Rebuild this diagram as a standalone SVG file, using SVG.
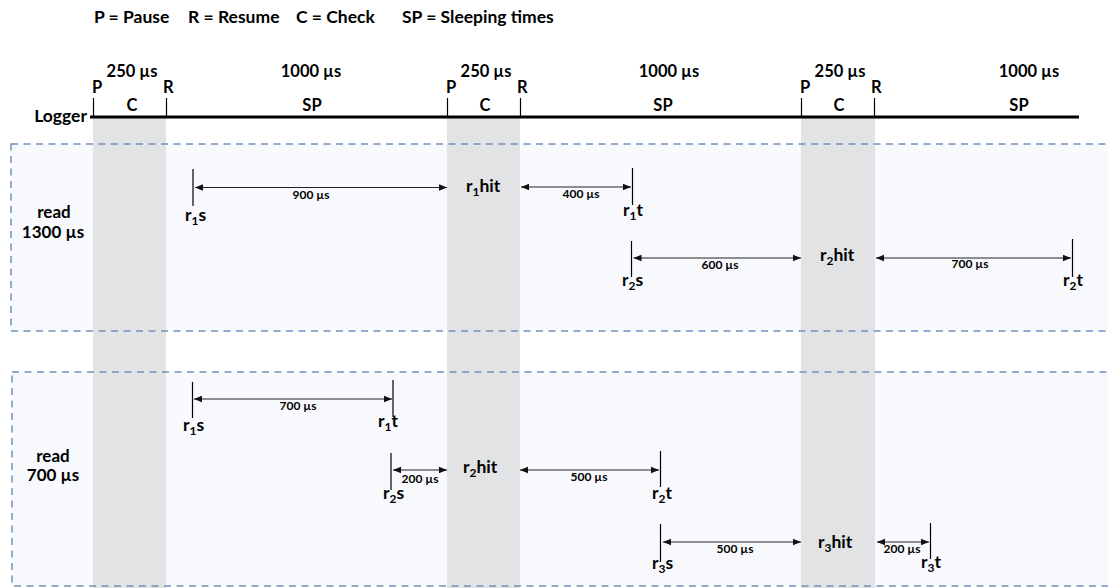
<svg xmlns="http://www.w3.org/2000/svg" width="1108" height="588" viewBox="0 0 1108 588">
<style>
text{font-family:Lato,"Open Sans","Liberation Sans",sans-serif;font-weight:bold;fill:#000}
.t{font-size:17.5px}
.h{font-size:16.5px}
.lb{font-size:17.5px}
.rd{font-size:17px}
.sm{font-size:12px}
.sub{font-size:12px}
.box{fill:#f8f9fc;stroke:none}
.boxline{fill:none;stroke:#6f92bb;stroke-width:1.5;stroke-dasharray:7 5.5}
.band{fill:#e2e3e5}
.tick{stroke:#000;stroke-width:1.2}
.arr{stroke:#222;stroke-width:1;fill:none;marker-start:url(#ah);marker-end:url(#ah)}
</style>
<defs>
<marker id="ah" viewBox="0 0 8 8" refX="8" refY="4" markerWidth="8" markerHeight="8" markerUnits="userSpaceOnUse" orient="auto-start-reverse">
<path d="M0,0.8 L8,4 L0,7.2 Z" fill="#111"/>
</marker>
</defs>
<rect width="1108" height="588" fill="#fff"/>
<g id="legend">
<text class="t" x="94" y="23">P = Pause</text>
<text class="t" x="188" y="23">R = Resume</text>
<text class="t" x="296" y="23">C = Check</text>
<text class="t" x="402" y="23">SP = Sleeping times</text>
</g>
<g id="box1-bg"><rect class="box" x="11" y="144" width="1110" height="187"/></g>
<g id="box2-bg"><rect class="box" x="12" y="372" width="1110" height="214"/></g>
<g id="bands">
<rect class="band" x="93" y="118" width="73" height="470"/>
<rect class="band" x="447" y="118" width="73" height="470"/>
<rect class="band" x="801" y="118" width="74" height="470"/>
</g>
<g id="box1"><rect class="boxline" x="11" y="144" width="1110" height="187"/>
<text class="rd" x="54" y="218" text-anchor="middle">read</text>
<text class="rd" x="53" y="238" text-anchor="middle">1300 µs</text>
</g>
<g id="box2"><rect class="boxline" x="12" y="372" width="1110" height="214"/>
<text class="rd" x="53" y="462" text-anchor="middle">read</text>
<text class="rd" x="53" y="481" text-anchor="middle">700 µs</text>
</g>
<g id="logger">
<text class="lb" x="87" y="122" text-anchor="end">Logger</text>
<line x1="90" y1="117" x2="1079" y2="117" stroke="#000" stroke-width="3"/>
<line class="tick" x1="93.5" y1="98" x2="93.5" y2="117"/>
<line class="tick" x1="166.5" y1="98" x2="166.5" y2="117"/>
<line class="tick" x1="447.5" y1="98" x2="447.5" y2="117"/>
<line class="tick" x1="520.5" y1="98" x2="520.5" y2="117"/>
<line class="tick" x1="801.5" y1="98" x2="801.5" y2="117"/>
<line class="tick" x1="874.5" y1="98" x2="874.5" y2="117"/>
<text class="h" x="92" y="93">P</text><text class="h" x="163" y="93">R</text>
<text class="h" x="446" y="93">P</text><text class="h" x="517" y="93">R</text>
<text class="h" x="800" y="93">P</text><text class="h" x="871" y="93">R</text>
<text class="h" x="132" y="77" text-anchor="middle">250 µs</text>
<text class="h" x="486" y="77" text-anchor="middle">250 µs</text>
<text class="h" x="840" y="77" text-anchor="middle">250 µs</text>
<text class="h" x="311" y="77" text-anchor="middle">1000 µs</text>
<text class="h" x="669" y="77" text-anchor="middle">1000 µs</text>
<text class="h" x="1029" y="77" text-anchor="middle">1000 µs</text>
<text class="h" x="132" y="111" text-anchor="middle">C</text>
<text class="h" x="485" y="111" text-anchor="middle">C</text>
<text class="h" x="839" y="111" text-anchor="middle">C</text>
<text class="h" x="312" y="111" text-anchor="middle">SP</text>
<text class="h" x="663" y="111" text-anchor="middle">SP</text>
<text class="h" x="1019" y="111" text-anchor="middle">SP</text>
</g>
<g id="r1-1300">
<line class="tick" x1="193" y1="169" x2="193" y2="206"/>
<text class="lb" x="185" y="221">r<tspan class="sub" dy="4">1</tspan><tspan dy="-4">s</tspan></text>
<text class="lb" x="466" y="192">r<tspan class="sub" dy="4">1</tspan><tspan dy="-4">hit</tspan></text>
<line class="tick" x1="632.5" y1="168" x2="632.5" y2="205"/>
<text class="lb" x="623" y="216">r<tspan class="sub" dy="4">1</tspan><tspan dy="-4">t</tspan></text>
</g>
<g id="r2-1300">
<line class="tick" x1="631.5" y1="241" x2="631.5" y2="277"/>
<text class="lb" x="622" y="286">r<tspan class="sub" dy="4">2</tspan><tspan dy="-4">s</tspan></text>
<text class="lb" x="820" y="261">r<tspan class="sub" dy="4">2</tspan><tspan dy="-4">hit</tspan></text>
<line class="tick" x1="1072.5" y1="239" x2="1072.5" y2="277"/>
<text class="lb" x="1063" y="286">r<tspan class="sub" dy="4">2</tspan><tspan dy="-4">t</tspan></text>
</g>
<g id="r1-700">
<line class="tick" x1="192.5" y1="382" x2="192.5" y2="418"/>
<text class="lb" x="183" y="431">r<tspan class="sub" dy="4">1</tspan><tspan dy="-4">s</tspan></text>
<line class="tick" x1="393" y1="380" x2="393" y2="417"/>
<text class="lb" x="378" y="427">r<tspan class="sub" dy="4">1</tspan><tspan dy="-4">t</tspan></text>
</g>
<g id="r2-700">
<line class="tick" x1="391" y1="453" x2="391" y2="490"/>
<text class="lb" x="383" y="499">r<tspan class="sub" dy="4">2</tspan><tspan dy="-4">s</tspan></text>
<text class="lb" x="463" y="473">r<tspan class="sub" dy="4">2</tspan><tspan dy="-4">hit</tspan></text>
<line class="tick" x1="660.5" y1="451" x2="660.5" y2="487"/>
<text class="lb" x="652" y="499">r<tspan class="sub" dy="4">2</tspan><tspan dy="-4">t</tspan></text>
</g>
<g id="r3-700">
<line class="tick" x1="660.5" y1="524" x2="660.5" y2="562" stroke="#555"/>
<text class="lb" x="652" y="569">r<tspan class="sub" dy="4">3</tspan><tspan dy="-4">s</tspan></text>
<text class="lb" x="818" y="548">r<tspan class="sub" dy="4">3</tspan><tspan dy="-4">hit</tspan></text>
<line class="tick" x1="930.5" y1="523" x2="930.5" y2="559"/>
<text class="lb" x="921" y="568">r<tspan class="sub" dy="4">3</tspan><tspan dy="-4">t</tspan></text>
</g>
<g id="connectors">
<line class="arr" x1="195" y1="187.5" x2="447" y2="187.5"/>
<text class="sm" x="311" y="199" text-anchor="middle">900 µs</text>
<line class="arr" x1="521" y1="187" x2="631" y2="187"/>
<text class="sm" x="581" y="198" text-anchor="middle">400 µs</text>
<line class="arr" x1="633.5" y1="258" x2="801" y2="258"/>
<text class="sm" x="720" y="269" text-anchor="middle">600 µs</text>
<line class="arr" x1="876" y1="258" x2="1071" y2="258"/>
<text class="sm" x="970" y="268" text-anchor="middle">700 µs</text>
<line class="arr" x1="194" y1="399" x2="392" y2="399"/>
<text class="sm" x="298" y="410" text-anchor="middle">700 µs</text>
<line class="arr" x1="393" y1="470" x2="447" y2="470"/>
<text class="sm" x="420" y="483" text-anchor="middle">200 µs</text>
<line class="arr" x1="520" y1="470" x2="659" y2="470"/>
<text class="sm" x="589" y="481" text-anchor="middle">500 µs</text>
<line class="arr" x1="663" y1="542" x2="801" y2="542" stroke="#555" stroke-width="1.5"/>
<text class="sm" x="735" y="553" text-anchor="middle">500 µs</text>
<line class="arr" x1="877" y1="542" x2="929" y2="542" stroke="#555" stroke-width="1.5"/>
<text class="sm" x="902" y="553" text-anchor="middle">200 µs</text>
</g>
</svg>
